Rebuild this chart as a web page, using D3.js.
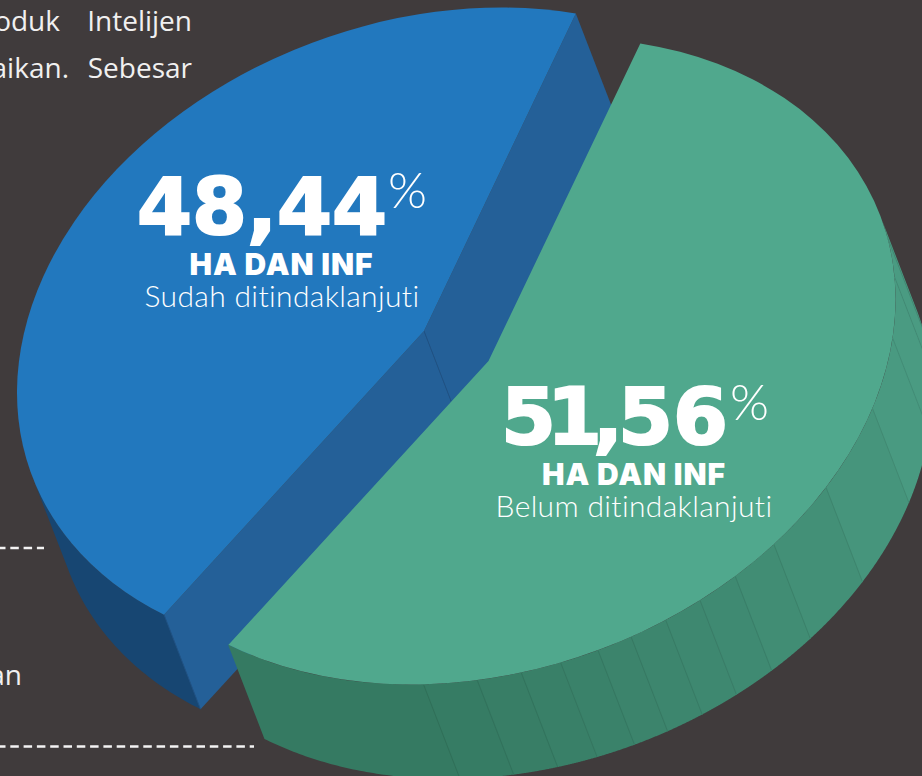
<!DOCTYPE html>
<html><head><meta charset="utf-8">
<script src="https://cdn.jsdelivr.net/npm/d3@7"></script>
<style>html,body{margin:0;padding:0;background:#403b3c;overflow:hidden}svg{display:block}</style>
</head><body>
<svg id="c" width="922" height="776"></svg>
<script>
// ---- data ----
const sliceKeys = ["belum", "sudah"];
const sliceValues = [51.56, 48.44];
const sliceValueLabels = ["51,56", "48,44"];
const sliceTitles = ["HA DAN INF", "HA DAN INF"];
const sliceSubtitles = ["Belum ditindaklanjuti", "Sudah ditindaklanjuti"];
// edge of the ribbed green wall, in degrees round the disc
const ribAngles = [78.3, 85.9, 96.9, 109.4, 124, 135.5, 142.7, 148.7, 154.2, 159.5, 164.4, 169.8, 175.4, 181.6, 189.2];
const bodyWords = [["oduk", 60, 31], ["Intelijen", 192, 31], ["aikan.", 69, 78], ["Sebesar", 192, 78], ["an", 22, 685]];
const dashRules = [[548, 44], [746.5, 254]];

// ---- geometry ----
const W = 922, H = 776, R = 100;
const M = {a: 4.07, b: -0.617, d: 3.175};          // disc -> ellipse
const depth = {x: 36.5, y: 94.5};
const centre = {belum: {x: 488.5, y: 361}, sudah: {x: 424, y: 331}};
const rad = d => d * Math.PI / 180;
const seamA = 21.9, seamB = 219.7, tangent = 74.2;

// the drawn pie is not area-true: each value maps to its own drawn sweep
const sweep = {
  belum: d3.scaleLinear().domain([0, sliceValues[0]]).range([seamA, seamB]),
  sudah: d3.scaleLinear().domain([0, sliceValues[1]]).range([seamB, seamA + 360])
};
const project = (c, deg, dz) => {
  const u = R * Math.sin(rad(deg)), v = -R * Math.cos(rad(deg));
  return [c.x + M.a * u + dz * depth.x, c.y + M.b * u + M.d * v + dz * depth.y];
};
const line = d3.line();
const steps = (a, b) => d3.range(0, 61).map(i => a + (b - a) * i / 60);
const wall = (c, a, b) => {
  const s = steps(a, b);
  return line(s.map(t => project(c, t, 0)).concat(s.slice().reverse().map(t => project(c, t, 1)))) + "Z";
};
const arc = d3.arc().innerRadius(0).outerRadius(R);

const svg = d3.select("#c");
const bg = "#403b3c";
svg.append("rect").attr("width", W).attr("height", H).attr("fill", bg);

// background copy + dashed rules
const copy = svg.append("g").attr("fill", "#f1f0f0")
  .attr("font-family", "'Open Sans',sans-serif").attr("font-size", 28);
copy.selectAll("text").data(bodyWords).join("text")
  .attr("x", d => d[1]).attr("y", d => d[2]).attr("text-anchor", "end").text(d => d[0]);
svg.append("g").selectAll("line").data(dashRules).join("line")
  .attr("x1", 0).attr("x2", d => d[1]).attr("y1", d => d[0]).attr("y2", d => d[0])
  .attr("stroke", "#f4f3f3").attr("stroke-width", 2.5).attr("stroke-dasharray", "8.5 4.8").attr("stroke-dashoffset", 3);

// blue slice
const cB = centre.sudah;
const bStart = sweep.sudah(0), bEnd = sweep.sudah(sliceValues[1]);
const quad = (p, q) => line([p, q, [q[0] + depth.x, q[1] + depth.y], [p[0] + depth.x, p[1] + depth.y]]) + "Z";
const bTip = [cB.x, cB.y];
svg.append("path").attr("d", wall(cB, bStart, tangent + 180)).attr("fill", "#174672");
svg.append("path").attr("d", quad(bTip, project(cB, bStart, 0))).attr("fill", "#246098");
svg.append("path").attr("d", quad(bTip, project(cB, bEnd, 0))).attr("fill", "#246098");
svg.append("line").attr("x1", bTip[0]).attr("y1", bTip[1]).attr("x2", bTip[0] + depth.x).attr("y2", bTip[1] + depth.y)
  .attr("stroke", "#1f5285").attr("stroke-width", 1);
const [bsx, bsy] = project(cB, bStart, 0);
svg.append("line").attr("x1", bsx).attr("y1", bsy).attr("x2", bsx + depth.x).attr("y2", bsy + depth.y)
  .attr("stroke", "#1f5285").attr("stroke-width", 1);
const topMatrix = c => `matrix(${M.a},${M.b},0,${M.d},${c.x},${c.y})`;
svg.append("path").attr("transform", topMatrix(cB))
  .attr("d", arc({startAngle: rad(bStart), endAngle: rad(bEnd)})).attr("fill", "#2278be");

// green slice
const cG = centre.belum;
const gStart = sweep.belum(0), gEnd = sweep.belum(sliceValues[0]);
const edges = [tangent].concat(ribAngles, [gEnd]);
const ribColor = d3.scaleLinear().domain([100, 190]).range(["#4a9b82", "#357a62"]).clamp(true);
svg.append("g").selectAll("path").data(d3.pairs(edges)).join("path")
  .attr("d", d => wall(cG, d[0] - 0.1, d[1] + 0.1))
  .attr("fill", d => ribColor((d[0] + d[1]) / 2));
svg.append("g").selectAll("line").data(ribAngles).join("line")
  .attr("x1", d => project(cG, d, 0)[0]).attr("y1", d => project(cG, d, 0)[1])
  .attr("x2", d => project(cG, d, 1)[0]).attr("y2", d => project(cG, d, 1)[1])
  .attr("stroke", d => d3.color(ribColor(d)).darker(0.35)).attr("stroke-width", 0.8);
svg.append("path").attr("transform", topMatrix(cG))
  .attr("d", arc({startAngle: rad(gStart), endAngle: rad(gEnd)})).attr("fill", "#50a88d");

// labels
const labels = [
  {i: 1, numX: 137, num: 234, dx: "0", titleX: 281.5, title: 275, subX: 282, sub: 307, pct: [388, 208]},
  {i: 0, numX: 501, num: 444, dx: "0 -9 -9 -5 0", titleX: 634, title: 485, subX: 634, sub: 517, pct: [730, 420]}
];
const t = svg.append("g").attr("fill", "#fff");
labels.forEach(l => {
  t.append("text").attr("x", l.numX).attr("y", l.num).attr("dx", l.dx).attr("font-family", "'DejaVu Sans',sans-serif")
    .attr("font-weight", 700).attr("font-size", 79).attr("stroke", "#fff").attr("stroke-width", 2.2)
    .attr("letter-spacing", 0).text(sliceValueLabels[l.i]);
  t.append("text").attr("x", l.pct[0]).attr("y", l.pct[1]).attr("font-family", "Lato,sans-serif")
    .attr("font-weight", 300).attr("font-size", 50).text("%");
  t.append("text").attr("x", l.titleX).attr("y", l.title).attr("text-anchor", "middle")
    .attr("font-family", "Inter,sans-serif").attr("font-weight", 900).attr("font-size", 30).attr("letter-spacing", 0.9).text(sliceTitles[l.i]);
  t.append("text").attr("x", l.subX).attr("y", l.sub).attr("text-anchor", "middle")
    .attr("font-family", "Lato,sans-serif").attr("font-weight", 300).attr("font-size", 30).attr("letter-spacing", 0.35).text(sliceSubtitles[l.i]);
});
</script>
</body></html>
